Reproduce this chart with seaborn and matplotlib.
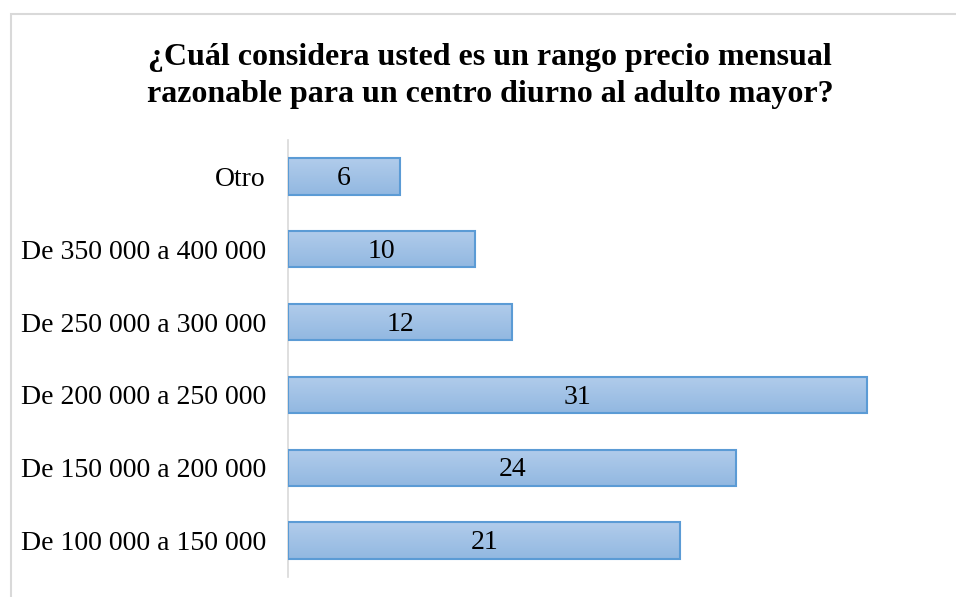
import numpy as np
import pandas as pd
import matplotlib
matplotlib.use('Agg')
import matplotlib.pyplot as plt
import matplotlib.patches as mpatches
from matplotlib.colors import LinearSegmentedColormap
import seaborn as sns

CATEGORIES = ['Otro', 'De 350 000 a 400 000', 'De 250 000 a 300 000',
              'De 200 000 a 250 000', 'De 150 000 a 200 000', 'De 100 000 a 150 000']
VALUES = [6, 10, 12, 31, 24, 21]
TITLE = '¿Cuál considera usted es un rango precio mensual\nrazonable para un centro diurno al adulto mayor?'

df = pd.DataFrame({'cat': CATEGORIES, 'val': VALUES})

sns.set_theme(style='white')
plt.rcParams['font.family'] = ['Liberation Serif', 'DejaVu Serif']
plt.rcParams['text.color'] = 'black'

fig = plt.figure(figsize=(9.56, 5.97), dpi=100)
ax = fig.add_axes([288 / 956, 20 / 597, 654 / 956, 437 / 597])

sns.barplot(data=df, x='val', y='cat', orient='h', ax=ax, width=0.5,
            color='#a3c1e6', edgecolor='#5b9bd5', linewidth=1.5, saturation=1)

# vertical gradient on each bar
cmap = LinearSegmentedColormap.from_list('bar', ['#b1cceb', '#92b8e1'])
grad = np.linspace(0, 1, 64).reshape(-1, 1)
for p in ax.patches:
    x0, y0 = p.get_x(), p.get_y()
    w, h = p.get_width(), p.get_height()
    im = ax.imshow(grad, extent=(x0, x0 + w, y0 + h, y0), cmap=cmap,
                   aspect='auto', zorder=p.get_zorder() - 0.1)
    im.set_clip_path(p)
    p.set_facecolor('none')
    p.set_zorder(3)

for p, v in zip(ax.patches, VALUES):
    ax.text(p.get_x() + p.get_width() / 2, p.get_y() + p.get_height() / 2 + 0.03,
            str(v), ha='center', va='center', fontsize=20, color='black', zorder=4)

ax.set_xlim(0, 35)
ax.set_ylim(5.5, -0.5)
ax.set_xlabel('')
ax.set_ylabel('')
ax.set_xticks([])
ax.tick_params(axis='y', length=0, pad=16, labelsize=20, colors='black')
for s in ['top', 'right', 'bottom']:
    ax.spines[s].set_visible(False)
ax.spines['left'].set_color('#d9d9d9')
ax.spines['left'].set_linewidth(1.2)

fig.text(490 / 956, 1 - 76 / 597, TITLE, ha='center', va='center',
         fontsize=23, fontweight='bold', linespacing=1.38, color='black')

frame = mpatches.Rectangle((11 / 956, -0.1), 1.1, 1 - 14 / 597 + 0.1,
                           transform=fig.transFigure, fill=False,
                           edgecolor='#d9d9d9', linewidth=1.5)
fig.patches.append(frame)

fig.savefig('out.png', dpi=100)
